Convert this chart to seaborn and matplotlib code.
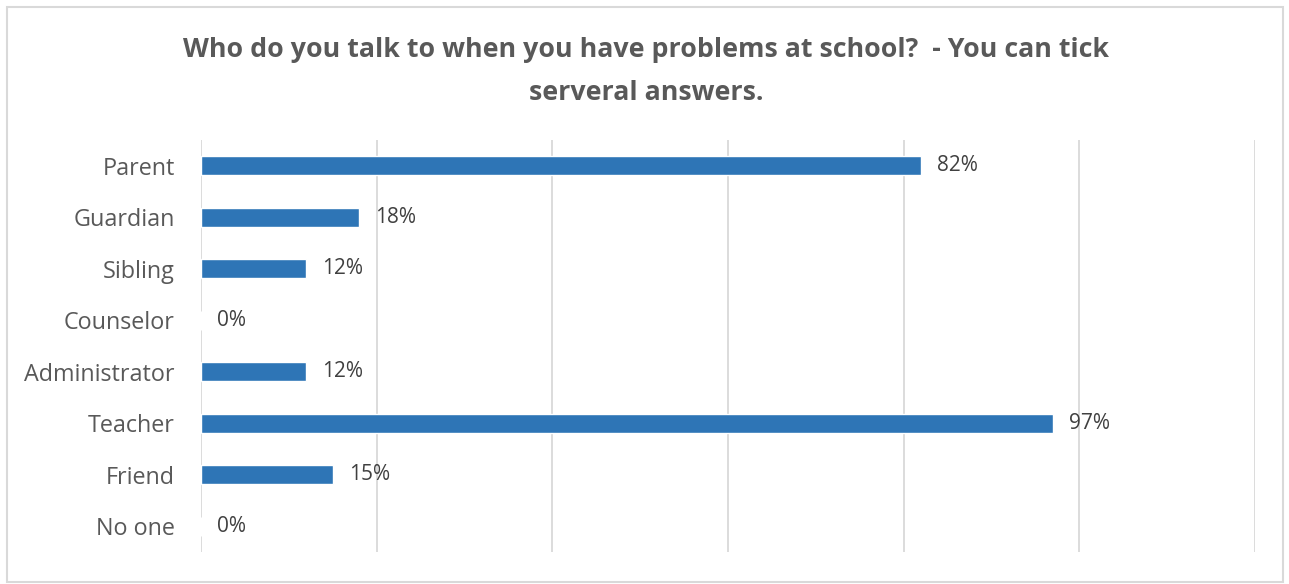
import matplotlib
matplotlib.use("Agg")
import matplotlib.pyplot as plt
import seaborn as sns
import pandas as pd
from matplotlib.patches import Rectangle

categories = ["Parent", "Guardian", "Sibling", "Counselor", "Administrator", "Teacher", "Friend", "No one"]
percent = [82, 18, 12, 0, 12, 97, 15, 0]
title_text = "Who do you talk to when you have problems at school?  - You can tick\nserveral answers."

sns.set_theme(style="white")
plt.rcParams["font.family"] = ["Open Sans", "DejaVu Sans"]

df = pd.DataFrame({"who": categories, "pct": percent})

fig = plt.figure(figsize=(12.89, 5.84), dpi=100)
ax = fig.add_axes([0.156, 0.055, 0.8176, 0.705])

sns.barplot(data=df, y="who", x="pct", orient="h", color="#2E75B6",
            saturation=1, width=0.37, ax=ax)

ax.set_xlim(0, 120)
ax.set_xticks(range(0, 121, 20))
ax.set_xticklabels([])
ax.tick_params(axis="x", length=0)
ax.tick_params(axis="y", length=0, pad=19, labelsize=16.8, labelcolor="#595959")
ax.grid(axis="x", color="#D9D9D9", linewidth=1.3)
ax.set_axisbelow(True)
for s in ax.spines.values():
    s.set_visible(False)
ax.set_xlabel("")
ax.set_ylabel("")

for i, v in enumerate(percent):
    ax.annotate(f"{v}%", xy=(v, i), xytext=(11.5, 0), textcoords="offset points",
                ha="left", va="center", fontsize=15, color="#404040")

fig.text(0.501, 0.877, title_text, ha="center", va="center", fontsize=19.3,
         fontweight="bold", color="#595959", linespacing=1.85)

fig.patches.append(Rectangle((0.0055, 0.003), 0.99, 0.985, transform=fig.transFigure,
                             fill=False, edgecolor="#D9D9D9", linewidth=1.5))

fig.savefig("out.png", dpi=100)
